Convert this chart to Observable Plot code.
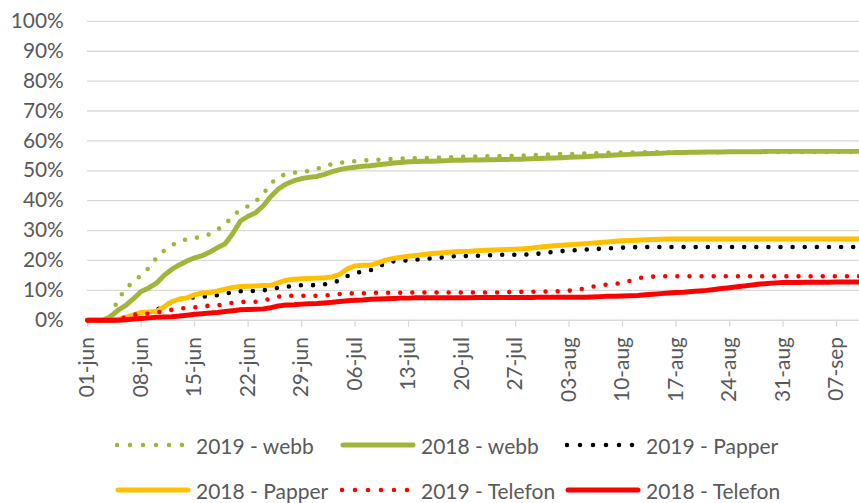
<!DOCTYPE html>
<html><head><meta charset="utf-8">
<script src="https://cdn.jsdelivr.net/npm/d3@7"></script>
<script src="https://cdn.jsdelivr.net/npm/@observablehq/plot@0.6"></script>
<style>
body{margin:0;background:#fff;font-family:Lato,sans-serif;}
#wrap{position:relative;width:859px;height:503px;overflow:hidden;background:#fff;}
#chart{position:absolute;left:0;top:0;}
.item{position:absolute;height:30px;display:flex;align-items:center;font-size:21px;color:#595959;white-space:nowrap;font-family:Lato,sans-serif;}
.item svg{display:block;margin-right:0;}
</style></head><body>
<div id="wrap"><div id="chart"></div><div id="legend"></div></div>
<script>
// Daily cumulative share (%) from 01-jun, one value per day
const firstDay = "2019-06-01";
const seriesNames = ["2019 - webb", "2018 - webb", "2019 - Papper", "2018 - Papper", "2019 - Telefon", "2018 - Telefon"];

const webb2019 = [
  0, 0, 0, 1.5, 7.0, 10.5, 13.0, 15.0, 17.5, 20.8,
  23.3, 25.0, 26.4, 27.1, 27.5, 28.0, 28.8, 30.3, 32.0, 35.0,
  37.0, 38.2, 39.8, 42.3, 45.8, 48.0, 48.9, 49.4, 49.7, 49.9,
  50.6, 51.6, 52.3, 52.7, 53.0, 53.2, 53.4, 53.6, 53.7, 53.9,
  54.0, 54.1, 54.1, 54.2, 54.2, 54.3, 54.4, 54.5, 54.6, 54.7,
  54.7, 54.8, 54.8, 54.9, 54.9, 55.0, 55.0, 55.1, 55.2, 55.3,
  55.4, 55.5, 55.6, 55.6, 55.7, 55.8, 55.8, 55.9, 56.0, 56.0,
  56.1, 56.1, 56.1, 56.2, 56.2, 56.2, 56.2, 56.2, 56.2, 56.2,
  56.2, 56.2, 56.2, 56.3, 56.3, 56.3, 56.3, 56.3, 56.3, 56.3,
  56.3, 56.3, 56.3, 56.3, 56.3, 56.3, 56.3, 56.3, 56.3, 56.3,
  56.3, 56.3
];
const webb2018 = [
  0, 0, 0, 1.2, 3.4, 5.0, 7.2, 9.6, 10.8, 12.4,
  15.0, 17.0, 18.5, 19.8, 20.9, 21.6, 22.8, 24.3, 25.6, 29.0,
  33.2, 34.8, 36.0, 38.3, 41.5, 44.0, 45.6, 46.7, 47.4, 47.8,
  48.1, 48.8, 49.7, 50.4, 50.9, 51.2, 51.5, 51.7, 52.0, 52.3,
  52.6, 52.8, 53.0, 53.1, 53.2, 53.2, 53.3, 53.4, 53.5, 53.5,
  53.6, 53.6, 53.7, 53.7, 53.8, 53.8, 53.9, 53.9, 54.0, 54.1,
  54.2, 54.3, 54.4, 54.5, 54.6, 54.7, 54.9, 55.0, 55.1, 55.3,
  55.4, 55.5, 55.6, 55.7, 55.8, 55.9, 56.0, 56.1, 56.1, 56.2,
  56.2, 56.3, 56.3, 56.3, 56.4, 56.4, 56.4, 56.4, 56.4, 56.5,
  56.5, 56.5, 56.5, 56.5, 56.5, 56.5, 56.5, 56.5, 56.5, 56.5,
  56.5, 56.5
];
const papper2019 = [
  0, 0, 0, 0, 0, 0.5, 1.4, 2.2, 2.8, 3.5,
  4.8, 6.0, 7.0, 7.5, 7.7, 7.9, 8.1, 8.4, 8.9, 9.4,
  9.7, 9.7, 9.8, 10.0, 10.4, 10.9, 11.2, 11.5, 11.7, 11.7,
  11.8, 12.0, 12.4, 13.4, 14.8, 15.8, 16.3, 16.7, 17.8, 19.2,
  19.7, 19.9, 20.1, 20.3, 20.5, 20.7, 20.9, 21.2, 21.4, 21.5,
  21.5, 21.6, 21.7, 21.8, 21.9, 21.9, 21.9, 21.9, 22.1, 22.3,
  22.6, 22.9, 23.1, 23.3, 23.5, 23.6, 23.8, 23.9, 24.0, 24.2,
  24.3, 24.4, 24.5, 24.5, 24.5, 24.5, 24.5, 24.5, 24.5, 24.5,
  24.5, 24.5, 24.5, 24.5, 24.5, 24.5, 24.5, 24.5, 24.5, 24.5,
  24.5, 24.5, 24.5, 24.5, 24.5, 24.5, 24.5, 24.5, 24.5, 24.5,
  24.5, 24.5
];
const papper2018 = [
  0, 0, 0, 0, 0.3, 1.0, 1.8, 2.6, 2.8, 2.9,
  4.5, 6.2, 7.1, 7.5, 8.5, 9.1, 9.3, 9.8, 10.4, 11.0,
  11.3, 11.4, 11.5, 11.6, 11.7, 12.6, 13.4, 13.7, 13.9, 14.0,
  14.1, 14.2, 14.5, 15.4, 17.2, 18.2, 18.4, 18.4, 19.2, 20.1,
  20.7, 21.1, 21.4, 21.7, 22.0, 22.3, 22.5, 22.7, 22.9, 23.0,
  23.1, 23.3, 23.4, 23.5, 23.6, 23.7, 23.8, 23.9, 24.1, 24.4,
  24.7, 24.9, 25.1, 25.3, 25.4, 25.6, 25.8, 26.0, 26.2, 26.4,
  26.6, 26.7, 26.8, 26.9, 27.0, 27.1, 27.2, 27.2, 27.2, 27.2,
  27.2, 27.2, 27.2, 27.2, 27.2, 27.2, 27.2, 27.2, 27.2, 27.2,
  27.2, 27.2, 27.2, 27.2, 27.2, 27.2, 27.2, 27.2, 27.2, 27.2,
  27.2, 27.2
];
const telefon2019 = [
  0, 0, 0, 0, 0.3, 1.0, 1.8, 2.1, 2.2, 2.6,
  3.0, 3.5, 3.9, 4.1, 4.3, 4.6, 4.9, 5.0, 5.3, 5.9,
  6.1, 6.2, 6.2, 6.6, 7.2, 7.9, 8.2, 8.2, 8.2, 8.2,
  8.2, 8.3, 8.5, 8.8, 9.0, 9.0, 9.0, 9.1, 9.2, 9.2,
  9.2, 9.2, 9.3, 9.3, 9.3, 9.3, 9.3, 9.3, 9.3, 9.3,
  9.3, 9.3, 9.3, 9.3, 9.3, 9.4, 9.5, 9.5, 9.5, 9.6,
  9.6, 9.7, 9.7, 9.9, 10.1, 10.6, 11.2, 11.7, 11.9, 12.2,
  12.5, 13.2, 14.0, 14.5, 14.6, 14.7, 14.7, 14.7, 14.7, 14.7,
  14.7, 14.7, 14.7, 14.7, 14.7, 14.7, 14.7, 14.7, 14.7, 14.7,
  14.7, 14.7, 14.7, 14.7, 14.7, 14.7, 14.7, 14.7, 14.7, 14.7,
  14.7, 14.7
];
const telefon2018 = [
  0, 0, 0, 0, 0, 0.2, 0.4, 0.6, 0.8, 1.0,
  1.1, 1.2, 1.4, 1.7, 2.0, 2.2, 2.4, 2.6, 2.9, 3.2,
  3.5, 3.6, 3.7, 3.8, 4.2, 4.8, 5.1, 5.2, 5.4, 5.5,
  5.6, 5.8, 6.0, 6.3, 6.5, 6.7, 6.8, 7.0, 7.1, 7.2,
  7.3, 7.4, 7.4, 7.5, 7.5, 7.5, 7.5, 7.5, 7.5, 7.5,
  7.5, 7.6, 7.6, 7.6, 7.6, 7.6, 7.6, 7.6, 7.6, 7.7,
  7.7, 7.7, 7.7, 7.7, 7.7, 7.7, 7.8, 7.9, 8.0, 8.0,
  8.1, 8.2, 8.3, 8.5, 8.7, 8.9, 9.1, 9.3, 9.4, 9.6,
  9.8, 10.0, 10.3, 10.6, 10.9, 11.2, 11.5, 11.8, 12.1, 12.3,
  12.5, 12.6, 12.6, 12.6, 12.7, 12.7, 12.7, 12.7, 12.8, 12.8,
  12.8, 12.8
];

const yTicks = [0, 10, 20, 30, 40, 50, 60, 70, 80, 90, 100];
const xTickDays = ["2019-06-01", "2019-06-08", "2019-06-15", "2019-06-22", "2019-06-29", "2019-07-06", "2019-07-13", "2019-07-20", "2019-07-27", "2019-08-03", "2019-08-10", "2019-08-17", "2019-08-24", "2019-08-31", "2019-09-07"];
const xTickLabels = ["01-jun", "08-jun", "15-jun", "22-jun", "29-jun", "06-jul", "13-jul", "20-jul", "27-jul", "03-aug", "10-aug", "17-aug", "24-aug", "31-aug", "07-sep"];

// styles
const GREEN = "#a2b53b", BLACK = "#000000", YELLOW = "#ffc000", RED = "#ff0000";
const series = [
  {name: seriesNames[0], values: webb2019, color: GREEN, dotted: true},
  {name: seriesNames[1], values: webb2018, color: GREEN, dotted: false},
  {name: seriesNames[2], values: papper2019, color: BLACK, dotted: true},
  {name: seriesNames[3], values: papper2018, color: YELLOW, dotted: false},
  {name: seriesNames[4], values: telefon2019, color: RED, dotted: true},
  {name: seriesNames[5], values: telefon2018, color: RED, dotted: false}
];

const t0 = new Date(firstDay + "T00:00:00Z");
const dayDate = i => new Date(t0.getTime() + i * 86400000);
const tickDates = xTickDays.map(s => new Date(s + "T00:00:00Z"));
const nDays = webb2019.length;

const lineMarks = series.map(s => {
  const rows = s.values.map((v, i) => ({date: dayDate(i), value: v}));
  return Plot.line(rows, s.dotted
    ? {x: "date", y: "value", stroke: s.color, strokeWidth: 4.6, strokeDasharray: "0 12.2", strokeLinecap: "round", strokeLinejoin: "round"}
    : {x: "date", y: "value", stroke: s.color, strokeWidth: 5, strokeLinecap: "round", strokeLinejoin: "round"});
});

const chart = Plot.plot({
  width: 865,
  height: 410,
  marginLeft: 87.7,
  marginRight: 0,
  marginTop: 21,
  marginBottom: 88,
  style: {fontFamily: "Lato, sans-serif", fontSize: "21px", background: "transparent", color: "#595959"},
  x: {type: "utc", domain: [dayDate(0), dayDate(nDays - 1)], label: null},
  y: {domain: [0, 100], label: null},
  marks: [
    Plot.ruleY(yTicks, {stroke: "#d9d9d9", strokeWidth: 1.3}),
    Plot.axisY({ticks: yTicks, tickFormat: d => d + "%", tickSize: 0, tickPadding: 24, fill: "#595959", fontSize: 21, label: null}),
    Plot.axisX({ticks: tickDates, tickFormat: d => xTickLabels[tickDates.findIndex(t => +t === +d)], tickRotate: -90, tickSize: 7, tickPadding: 10, stroke: "#d9d9d9", strokeWidth: 1.3, fill: "#595959", fontSize: 21, label: null}),
    ...lineMarks
  ]
});
document.getElementById("chart").appendChild(chart);

// legend
const legend = document.getElementById("legend");
const rowCenters = [445, 490];
series.forEach((s, k) => {
  const row = Math.floor(k / 3), col = k % 3;
  const item = document.createElement("div");
  item.className = "item";
  item.style.left = (115 + col * 225) + "px";
  item.style.top = (rowCenters[row] - 15) + "px";
  const ns = "http://www.w3.org/2000/svg";
  const svg = document.createElementNS(ns, "svg");
  svg.setAttribute("width", 81);
  svg.setAttribute("height", 10);
  const ln = document.createElementNS(ns, "line");
  ln.setAttribute("y1", 5); ln.setAttribute("y2", 5);
  ln.setAttribute("stroke", s.color);
  ln.setAttribute("stroke-linecap", "round");
  if (s.dotted) {
    ln.setAttribute("x1", 2); ln.setAttribute("x2", 67.5);
    ln.setAttribute("stroke-width", 4.6);
    ln.setAttribute("stroke-dasharray", "0 13");
  } else {
    ln.setAttribute("x1", 3); ln.setAttribute("x2", 73);
    ln.setAttribute("stroke-width", 5);
  }
  svg.appendChild(ln);
  item.appendChild(svg);
  const span = document.createElement("span");
  span.textContent = s.name;
  item.appendChild(span);
  legend.appendChild(item);
});
</script>
</body></html>
